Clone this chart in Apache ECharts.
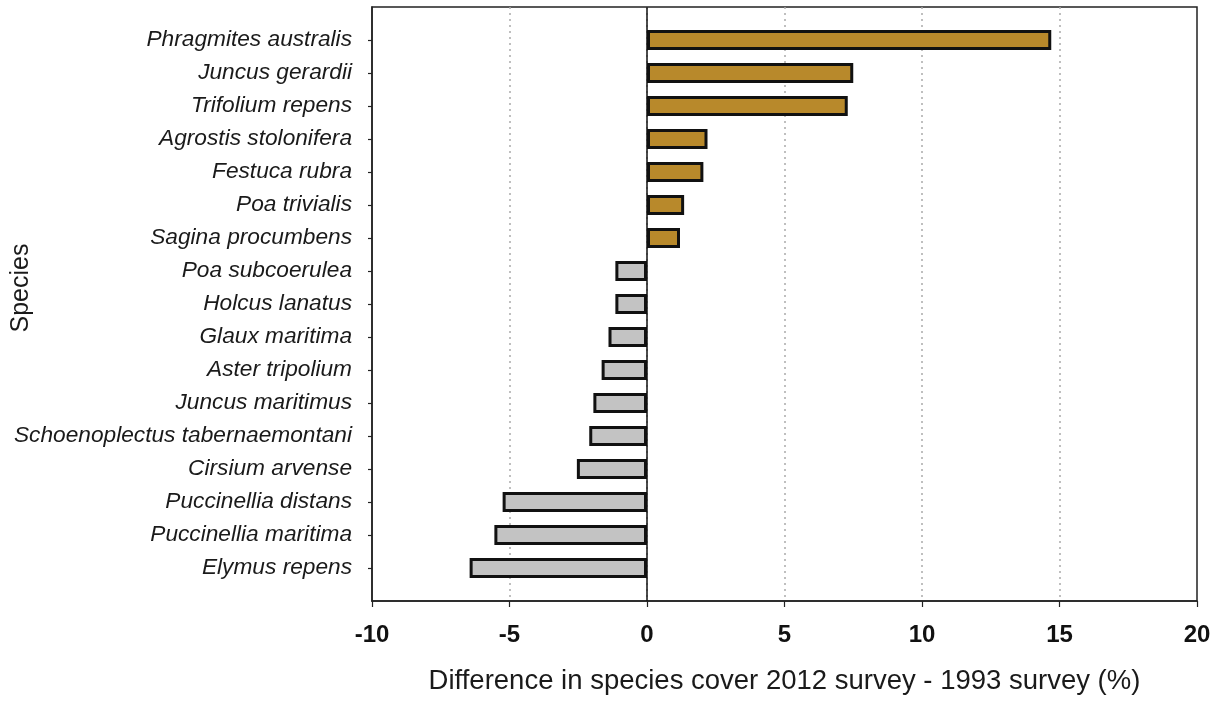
<!DOCTYPE html>
<html>
<head>
<meta charset="utf-8">
<script src="https://cdn.jsdelivr.net/npm/echarts@6/dist/echarts.min.js"></script>
<style>
  html, body { margin: 0; padding: 0; background: #fff; }
  #chart { width: 1222px; height: 701px; }
</style>
</head>
<body>
<div id="chart"></div>
<script>
// species, top to bottom
var species = [
    'Phragmites australis', 'Juncus gerardii', 'Trifolium repens', 'Agrostis stolonifera',
    'Festuca rubra', 'Poa trivialis', 'Sagina procumbens', 'Poa subcoerulea',
    'Holcus lanatus', 'Glaux maritima', 'Aster tripolium', 'Juncus maritimus',
    'Schoenoplectus tabernaemontani', 'Cirsium arvense', 'Puccinellia distans',
    'Puccinellia maritima', 'Elymus repens'
];
// cover difference 2012 - 1993 (%)
var coverDiff = [
    14.7, 7.5, 7.3, 2.2,
    2.05, 1.35, 1.2, -1.15,
    -1.15, -1.4, -1.65, -1.95,
    -2.1, -2.55, -5.25,
    -5.55, -6.45
];
var xTicks = [-10, -5, 0, 5, 10, 15, 20];

var gainColor = '#b8892b';
var lossColor = '#c3c3c3';

// empty slot above and below so the bars sit away from the frame
var cats = [''].concat(species, ['']);
var barData = [null];
coverDiff.forEach(function (v) {
    barData.push({
        value: v,
        itemStyle: { color: v >= 0 ? gainColor : lossColor }
    });
});
barData.push(null);

var chart = echarts.init(document.getElementById('chart'));
chart.setOption({
    animation: false,
    grid: {
        left: 372, right: 25, top: 7, bottom: 100,
        show: true,
        borderColor: '#222',
        borderWidth: 1.5,
        containLabel: false
    },
    graphic: [{
        type: 'text',
        x: 21,
        y: 288,
        rotation: Math.PI / 2,
        style: {
            text: 'Species',
            fontFamily: 'Liberation Sans',
            fontSize: 25,
            fill: '#1a1a1a',
            align: 'center',
            verticalAlign: 'middle'
        }
    }],
    xAxis: {
        type: 'value',
        min: xTicks[0],
        max: xTicks[xTicks.length - 1],
        interval: 5,
        name: 'Difference in species cover 2012 survey - 1993 survey (%)',
        nameLocation: 'middle',
        nameGap: 66,
        nameTextStyle: { fontFamily: 'Liberation Sans', fontSize: 27.5, color: '#1a1a1a' },
        axisLine: { show: true, onZero: false, lineStyle: { color: '#222', width: 1.5 } },
        axisTick: { show: true, length: 6, lineStyle: { color: '#222', width: 1.2 } },
        axisLabel: {
            margin: 22,
            fontFamily: 'Liberation Sans',
            fontWeight: 'bold',
            fontSize: 24,
            color: '#111'
        },
        splitLine: {
            show: true,
            showMinLine: false,
            showMaxLine: false,
            lineStyle: { color: '#aaa', type: [2, 4], width: 1.5 }
        }
    },
    yAxis: {
        type: 'category',
        data: cats,
        inverse: true,
        boundaryGap: false,
        axisLine: { show: true, onZero: false, lineStyle: { color: '#222', width: 1.5 } },
        axisTick: {
            show: true,
            length: 4,
            interval: function (index, value) { return value !== ''; },
            lineStyle: { color: '#222', width: 1.2 }
        },
        axisLabel: {
            interval: 0,
            margin: 20,
            fontFamily: 'Liberation Sans',
            fontStyle: 'italic',
            fontSize: 22.7,
            color: '#1a1a1a'
        },
        splitLine: { show: false }
    },
    series: [
        {
            type: 'bar',
            data: barData,
            barWidth: 20,
            itemStyle: {
                borderColor: '#111',
                borderWidth: 3
            },
            markLine: {
                silent: true,
                symbol: 'none',
                label: { show: false },
                lineStyle: { color: '#111', type: 'solid', width: 1.5 },
                data: [{ xAxis: 0 }]
            }
        }
    ]
});
</script>
</body>
</html>
